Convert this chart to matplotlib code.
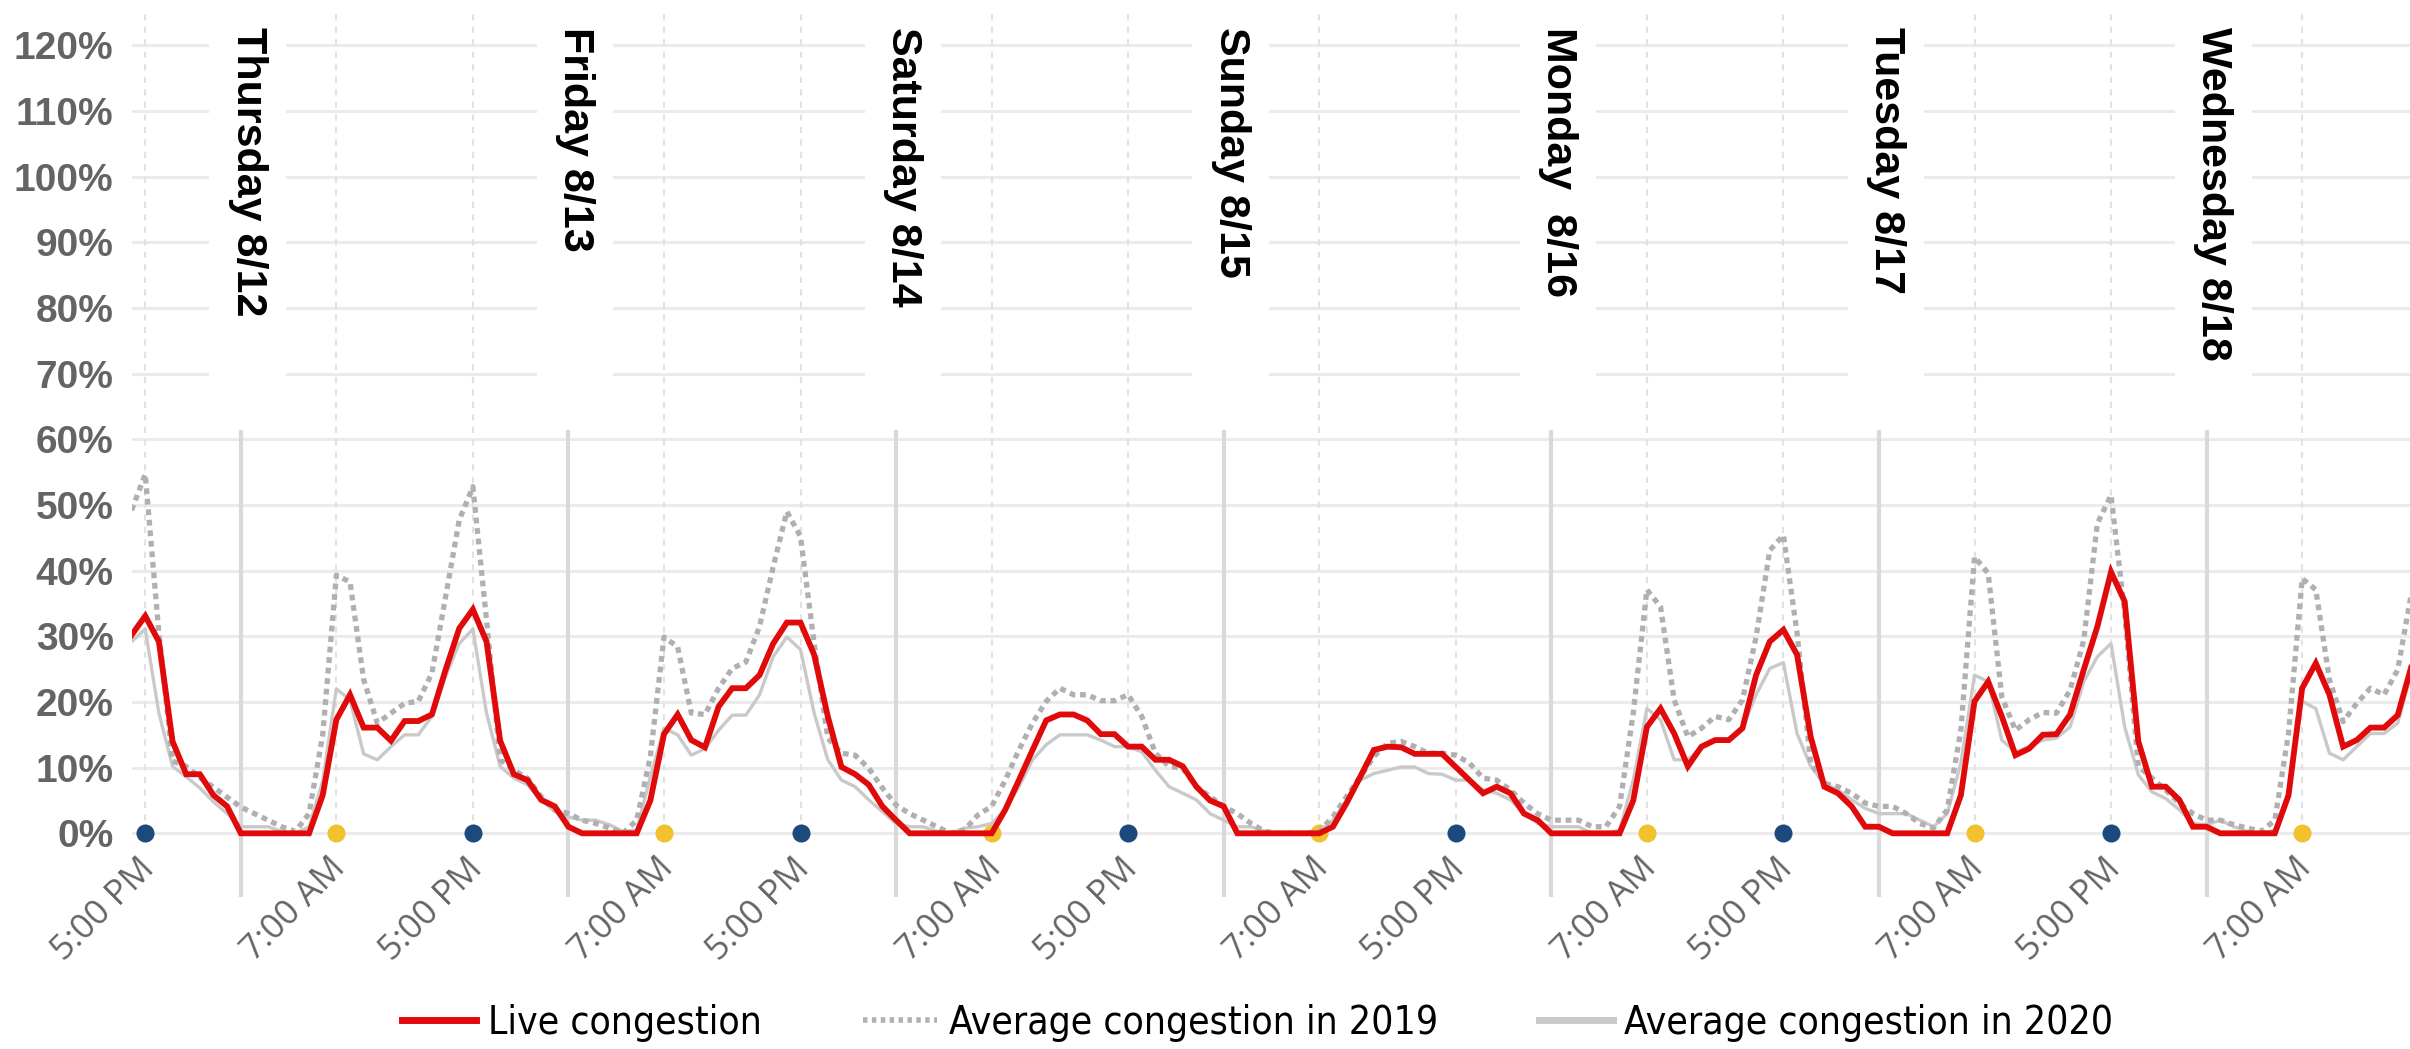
import matplotlib
matplotlib.use("Agg")
import matplotlib.pyplot as plt
from matplotlib.lines import Line2D

# hourly samples, first point is Wed 8/11 4 PM (hour 16), last is Wed 8/18 ~3 PM
start_hour = 16

live = [
    30.2, 33.1, 29.2, 14.0, 9.0, 9.0, 5.8, 4.1,
    0, 0, 0, 0, 0, 0, 5.8, 17.3, 21.1, 16.1, 16.1, 14.1, 17.1, 17.1, 18.1, 24.9, 31.2, 34.1, 29.2, 14.1, 9.0, 8.1, 5.1, 4.1,
    1.0, 0, 0, 0, 0, 0, 5.0, 15.1, 18.1, 14.2, 13.1, 19.3, 22.1, 22.1, 24.1, 28.9, 32.1, 32.1, 27.2, 17.8, 10.1, 9.0, 7.4, 4.1,
    2.0, 0, 0, 0, 0, 0, 0, 0, 3.6, 8.1, 12.7, 17.2, 18.1, 18.1, 17.2, 15.1, 15.1, 13.2, 13.2, 11.2, 11.2, 10.2, 7.1, 5.0,
    4.1, 0, 0, 0, 0, 0, 0, 0, 1.0, 4.6, 8.6, 12.7, 13.2, 13.1, 12.1, 12.1, 12.1, 10.1, 8.1, 6.1, 7.1, 6.1, 3.0, 2.0,
    0, 0, 0, 0, 0, 0, 5.0, 16.2, 19.0, 15.2, 10.2, 13.2, 14.2, 14.2, 16.0, 24.1, 29.2, 31.0, 27.2, 14.7, 7.1, 6.1, 4.1, 1.0,
    1.0, 0, 0, 0, 0, 0, 5.8, 20.1, 23.1, 17.8, 11.9, 12.9, 15.0, 15.1, 18.1, 24.9, 31.5, 39.8, 35.3, 14.0, 7.1, 7.1, 5.1, 1.0,
    1.0, 0, 0, 0, 0, 0, 5.8, 22.1, 25.9, 21.1, 13.2, 14.2, 16.1, 16.1, 18.0, 25.4,
]

avg_2019 = [
    49.2, 54.7, 30.5, 11.0, 10.2, 8.5, 7.0, 5.5,
    4.0, 3.0, 2.0, 1.0, 0.3, 3.0, 15.0, 39.3, 38.3, 23.4, 16.8, 18.3, 19.8, 20.1, 24.4, 36.0, 47.7, 52.8, 32.5, 11.2, 9.6, 8.4, 5.6, 3.6,
    3.0, 2.0, 1.5, 0.8, 0, 2.0, 11.7, 29.9, 28.4, 18.3, 18.1, 22.1, 25.1, 26.1, 31.5, 40.6, 49.0, 45.2, 28.9, 14.5, 12.2, 11.9, 9.9, 6.9,
    4.3, 3.0, 2.0, 1.0, 0, 0.5, 2.8, 4.1, 8.1, 12.7, 16.8, 20.1, 22.1, 21.1, 21.1, 20.2, 20.2, 21.1, 17.8, 12.2, 10.2, 9.9, 7.1, 5.6,
    4.1, 3.0, 1.5, 0.3, 0, 0, 0, 0.3, 2.5, 5.6, 8.6, 11.7, 13.7, 14.0, 13.2, 12.2, 12.2, 11.9, 10.7, 8.4, 8.1, 6.6, 4.6, 3.0,
    2.0, 2.0, 2.0, 1.0, 1.0, 4.1, 18.3, 37.1, 34.5, 20.3, 14.7, 16.0, 17.8, 17.3, 20.3, 29.9, 43.1, 45.4, 30.5, 10.7, 7.6, 7.1, 6.1, 4.6,
    4.1, 4.1, 3.0, 1.5, 0.8, 3.6, 15.7, 42.1, 39.6, 20.8, 15.7, 17.3, 18.4, 18.3, 21.8, 29.4, 47.2, 51.5, 33.5, 10.2, 8.4, 6.6, 4.6, 3.0,
    2.0, 2.0, 1.3, 0.8, 0.3, 2.0, 15.2, 38.8, 37.1, 23.4, 17.0, 19.8, 22.1, 21.1, 24.9, 36.5,
]

avg_2020 = [
    29.2, 31.1, 18.3, 10.2, 8.6, 6.9, 4.8, 3.0,
    1.0, 1.0, 1.0, 0.3, 0, 1.0, 8.0, 22.0, 20.3, 12.1, 11.2, 13.2, 15.0, 15.0, 17.8, 23.9, 28.9, 31.1, 18.3, 10.2, 8.4, 7.4, 5.1, 3.3,
    2.5, 2.0, 2.0, 1.3, 0.3, 0.5, 8.6, 16.0, 15.0, 11.9, 12.9, 15.7, 18.0, 18.0, 21.1, 26.9, 29.9, 28.0, 18.3, 11.2, 8.1, 7.1, 5.1, 3.3,
    1.5, 1.0, 1.0, 0.3, 0, 0.8, 1.0, 1.5, 3.6, 7.1, 11.2, 13.5, 15.0, 15.0, 15.0, 14.2, 13.2, 13.2, 12.4, 9.6, 7.1, 6.1, 5.1, 3.0,
    2.0, 1.0, 1.0, 0.3, 0, 0, 0, 0.3, 2.0, 5.1, 8.1, 9.1, 9.6, 10.1, 10.1, 9.1, 9.0, 8.1, 8.1, 6.6, 6.1, 5.1, 3.0, 1.5,
    1.0, 1.0, 1.0, 0, 0, 0.5, 8.1, 19.0, 17.3, 11.2, 11.2, 13.2, 14.2, 14.2, 16.0, 21.1, 25.1, 26.0, 15.2, 10.2, 7.6, 6.6, 5.1, 3.8,
    3.0, 3.0, 3.0, 2.0, 1.0, 3.0, 10.7, 24.1, 23.1, 14.2, 12.4, 13.2, 14.2, 14.5, 16.2, 23.1, 26.9, 28.9, 16.2, 8.9, 6.3, 5.3, 3.6, 1.5,
    1.3, 2.0, 1.0, 0.3, 0, 0.5, 6.1, 20.1, 19.0, 12.2, 11.2, 13.2, 15.2, 15.2, 16.8, 24.4,
]

day_labels = ["Thursday 8/12", "Friday 8/13", "Saturday 8/14", "Sunday 8/15",
              "Monday  8/16", "Tuesday 8/17", "Wednesday 8/18"]
pm_hours = [17, 41, 65, 89, 113, 137, 161]
am_hours = [31, 55, 79, 103, 127, 151, 175]
y_ticks = list(range(0, 121, 10))

hours = list(range(start_hour, start_hour + len(live)))
midnights = [24 * (i + 1) for i in range(len(day_labels))]

RED = "#e10a0a"
DOT_GRAY = "#b0b0b3"
SOLID_GRAY = "#c9c9c9"
GRID = "#ebebeb"
TEXT_GRAY = "#646464"

fig = plt.figure(figsize=(24.1, 10.49), dpi=100)
ax = fig.add_axes([0.0546, 0.1449, 0.9454, 0.8456])
ax.set_xlim(16, 182.9)
ax.set_ylim(-9.7, 125.4)

for s in ax.spines.values():
    s.set_visible(False)
ax.set_xticks([])
ax.set_yticks(y_ticks)
ax.set_yticklabels([f"{v}%" for v in y_ticks], fontsize=28, fontweight="bold",
                   color=TEXT_GRAY, family="Liberation Sans")
ax.tick_params(axis="y", length=0, pad=13)

# horizontal grid
for v in y_ticks:
    ax.axhline(v, color=GRID, lw=2.2, zorder=1)

# 5 PM / 7 AM dashed guides
for h in pm_hours + am_hours:
    ax.plot([h, h], [0, 125.4], color="#e2e2e2", lw=1.5, ls=(0, (3, 3)), zorder=1)

# day separators
for m in midnights:
    ax.plot([m, m], [61.5, -9.7], color="#d9d9d9", lw=3, zorder=1.5, solid_capstyle="butt")

# white boxes behind day labels + labels
for m, lab in zip(midnights, day_labels):
    ax.axvspan(m + 0.5 - 2.8, m + 0.5 + 2.8, ymin=(66 + 9.7) / 135.1, ymax=1,
               color="white", zorder=1.2, lw=0)
    ax.text(m + 0.5, 122.8, lab, rotation=-90, ha="center", va="top",
            fontsize=31, fontweight="bold", family="Liberation Sans",
            color="black", zorder=5)

# markers at 5 PM (blue) and 7 AM (yellow)
ax.plot(pm_hours, [0] * len(pm_hours), "o", color="#1d4a7c", ms=13, mew=0, zorder=2)
ax.plot(am_hours, [0] * len(am_hours), "o", color="#f2c12e", ms=13, mew=0, zorder=2)

# series
ax.plot(hours, avg_2020, color=SOLID_GRAY, lw=2.4, zorder=3)
ax.plot(hours, avg_2019, color=DOT_GRAY, lw=3.8, ls=(0, (1.1, 0.9)),
        dash_capstyle="butt", zorder=3.5)
ax.plot(hours, live, color=RED, lw=4.2, zorder=4, solid_joinstyle="miter")

# time labels
for h in pm_hours:
    ax.text(h + 0.3, -4.6, "5:00 PM", rotation=45, rotation_mode="anchor",
            ha="right", va="center", fontsize=25, color=TEXT_GRAY, family="Open Sans")
for h in am_hours:
    ax.text(h + 0.3, -4.6, "7:00 AM", rotation=45, rotation_mode="anchor",
            ha="right", va="center", fontsize=25, color=TEXT_GRAY, family="Open Sans")

handles = [
    Line2D([], [], color=RED, lw=5),
    Line2D([], [], color=DOT_GRAY, lw=4, ls=(0, (0.8, 0.8)), dash_capstyle="butt"),
    Line2D([], [], color=SOLID_GRAY, lw=5),
]
labels = ["Live congestion", "Average congestion in 2019", "Average congestion in 2020"]
fig.legend(handles, labels, loc="center", bbox_to_anchor=(0.522, 0.025), ncol=3,
           frameon=False, handlelength=1.9, handletextpad=0.3, columnspacing=2.6,
           prop={"family": ["DejaVu Sans"], "size": 28, "stretch": "condensed"})

fig.savefig("out.png", dpi=100)
